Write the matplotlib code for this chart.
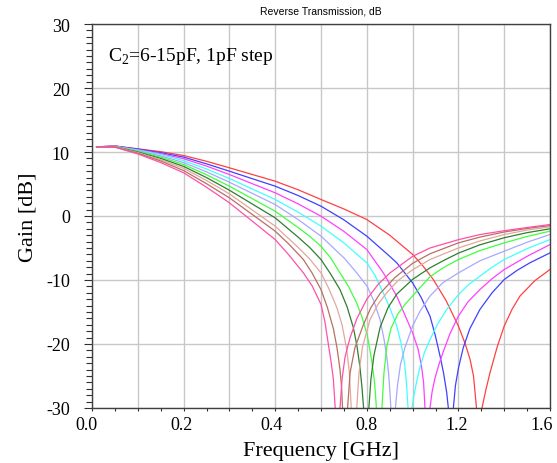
import numpy as np
import matplotlib
matplotlib.use('Agg')
import matplotlib.pyplot as plt
from matplotlib.transforms import ScaledTranslation

# curves for C2 = 6 ... 15 pF, gain in dB vs frequency in GHz
f_6pF = [0.01, 0.05, 0.1, 0.15, 0.2, 0.25, 0.3, 0.4, 0.5, 0.6, 0.7, 0.8, 0.9, 1.0, 1.045, 1.09, 1.146, 1.2, 1.229, 1.251,
         1.266, 1.279, 1.29, 1.303, 1.321, 1.338, 1.369, 1.4, 1.434, 1.469, 1.534, 1.6]
g_6pF = [10.8, 10.95, 10.5, 10.05, 9.45, 8.55, 7.53, 5.44, 4.1, 2.58, 1.1, -0.55, -3.0, -6.0, -7.8, -9.9, -13.2, -17.2, -19.9, -22.4,
         -25.0, -30, -40, -30, -27.0, -24.5, -20.5, -17.2, -14.6, -12.5, -10.1, -8.36]

f_7pF = [0.01, 0.05, 0.1, 0.15, 0.2, 0.25, 0.3, 0.4, 0.5, 0.6, 0.7, 0.8, 0.9, 0.931, 1.0, 1.037, 1.076, 1.098, 1.12, 1.135,
         1.149, 1.156, 1.168, 1.178, 1.187, 1.2, 1.221, 1.25, 1.294, 1.347, 1.4, 1.456, 1.513, 1.6]
g_7pF = [10.8, 10.93, 10.45, 9.9, 9.2, 8.15, 7.0, 4.66, 3.2, 1.53, -0.6, -3.15, -6.3, -7.32, -10.45, -12.7, -15.65, -18.5, -21.9, -24.5,
         -27.6, -30, -40, -30, -26.5, -23.8, -20.6, -17.6, -14.6, -12.0, -9.93, -8.5, -7.3, -5.76]

f_8pF = [0.01, 0.05, 0.1, 0.15, 0.2, 0.25, 0.3, 0.4, 0.5, 0.6, 0.7, 0.8, 0.872, 0.931, 1.0, 1.024, 1.039, 1.048, 1.054, 1.065,
         1.076, 1.085, 1.098, 1.115, 1.134, 1.163, 1.2, 1.242, 1.294, 1.347, 1.4, 1.5, 1.6]
g_8pF = [10.8, 10.9, 10.35, 9.75, 8.95, 7.8, 6.48, 3.62, 1.9, -0.03, -2.4, -5.24, -8.88, -12.53, -18.26, -20.8, -23.5, -26.0, -30, -40,
         -30, -27.5, -25.3, -23.2, -21.2, -18.4, -15.65, -13.4, -11.5, -9.8, -8.36, -6.3, -4.46]

f_9pF = [0.01, 0.05, 0.1, 0.15, 0.2, 0.25, 0.3, 0.4, 0.5, 0.6, 0.7, 0.8, 0.836, 0.872, 0.901, 0.931, 0.949, 0.965, 0.973, 0.98,
         0.989, 0.997, 1.006, 1.018, 1.033, 1.052, 1.076, 1.109, 1.149, 1.2, 1.242, 1.294, 1.347, 1.4, 1.5, 1.6]
g_9pF = [10.8, 10.88, 10.3, 9.6, 8.65, 7.35, 5.86, 2.58, 0.6, -1.59, -4.2, -7.32, -9.3, -12.0, -14.4, -17.2, -19.8, -23.0, -26.0, -30,
         -40, -30, -28.0, -25.8, -23.5, -21.3, -19.3, -16.9, -14.6, -12.3, -10.8, -9.4, -8.0, -6.8, -5.1, -3.68]

f_10pF = [0.01, 0.05, 0.1, 0.15, 0.2, 0.25, 0.3, 0.4, 0.5, 0.6, 0.702, 0.756, 0.802, 0.831, 0.858, 0.875, 0.887, 0.895, 0.901, 0.905,
          0.914, 0.925, 0.934, 0.947, 0.967, 1.0, 1.032, 1.076, 1.133, 1.2, 1.294, 1.4, 1.5, 1.6]
g_10pF = [10.8, 10.86, 10.2, 9.4, 8.35, 6.9, 5.28, 1.79, -0.55, -3.15, -6.6, -8.88, -11.0, -13.3, -16.2, -19.2, -21.9, -24.5, -27.5, -30,
          -40, -30, -26.5, -23.2, -20.5, -17.2, -14.9, -12.5, -10.4, -8.9, -7.0, -5.5, -4.1, -2.89]

f_11pF = [0.01, 0.05, 0.1, 0.15, 0.2, 0.25, 0.3, 0.4, 0.5, 0.55, 0.6, 0.641, 0.683, 0.72, 0.756, 0.779, 0.802, 0.821, 0.834, 0.842, 0.855,
          0.866, 0.875, 0.887, 0.906, 0.936, 0.967, 1.0, 1.032, 1.076, 1.133, 1.2, 1.294, 1.4, 1.5, 1.6]
g_11pF = [10.8, 10.84, 10.1, 9.2, 8.05, 6.45, 4.66, 0.75, -1.8, -3.15, -4.72, -6.5, -8.88, -11.0, -13.6, -15.8, -18.6, -22.5, -26.0, -30, -40,
          -30, -24.5, -20.5, -17.5, -15.3, -13.8, -12.5, -11.2, -9.5, -8.1, -6.8, -5.4, -4.2, -3.2, -2.37]

f_12pF = [0.01, 0.05, 0.1, 0.15, 0.2, 0.25, 0.3, 0.4, 0.5, 0.55, 0.6, 0.641, 0.683, 0.714, 0.741, 0.757, 0.77, 0.779, 0.786, 0.798,
          0.809, 0.818, 0.831, 0.858, 0.893, 0.931, 1.0, 1.076, 1.133, 1.2, 1.294, 1.4, 1.5, 1.6]
g_12pF = [10.8, 10.82, 10.0, 9.0, 7.75, 6.0, 4.03, -0.29, -3.3, -4.9, -6.8, -9.0, -11.5, -14.2, -17.4, -20.3, -23.6, -26.8, -30, -40,
          -30, -25.5, -21.8, -17.4, -14.3, -12.2, -9.9, -8.1, -7.0, -5.8, -4.5, -3.4, -2.6, -2.0]

f_13pF = [0.01, 0.05, 0.1, 0.15, 0.2, 0.25, 0.3, 0.4, 0.5, 0.55, 0.6, 0.635, 0.669, 0.692, 0.712, 0.724, 0.732, 0.744,
          0.756, 0.766, 0.781, 0.814, 0.849, 0.887, 0.936, 1.0, 1.076, 1.2, 1.294, 1.4, 1.5, 1.6]
g_13pF = [10.8, 10.8, 9.9, 8.8, 7.45, 5.55, 3.46, -1.59, -4.9, -6.7, -8.88, -11.4, -14.3, -17.0, -20.8, -24.5, -30, -40,
          -30, -24.5, -20.5, -16.2, -13.8, -12.0, -10.1, -8.4, -6.8, -5.0, -3.9, -2.9, -2.2, -1.7]

f_14pF = [0.01, 0.05, 0.1, 0.15, 0.2, 0.25, 0.3, 0.4, 0.46, 0.523, 0.561, 0.6, 0.628, 0.654, 0.67, 0.683, 0.69, 0.694, 0.705,
          0.716, 0.727, 0.748, 0.785, 0.818, 0.858, 0.923, 1.0, 1.076, 1.2, 1.294, 1.4, 1.5, 1.6]
g_14pF = [10.8, 10.78, 9.8, 8.6, 7.1, 5.05, 2.84, -2.37, -4.4, -6.8, -8.9, -11.5, -14.3, -17.6, -20.6, -24.0, -26.8, -30, -40,
          -30, -24.5, -20.6, -17.0, -14.3, -12.1, -9.6, -7.4, -5.9, -4.2, -3.3, -2.5, -1.95, -1.49]

f_15pF = [0.01, 0.05, 0.1, 0.15, 0.2, 0.25, 0.3, 0.4, 0.46, 0.523, 0.561, 0.6, 0.617, 0.632, 0.644, 0.654, 0.662, 0.672,
          0.683, 0.692, 0.705, 0.727, 0.757, 0.8, 0.849, 0.901, 1.0, 1.076, 1.2, 1.294, 1.4, 1.5, 1.6]
g_15pF = [10.8, 10.75, 9.7, 8.35, 6.75, 4.5, 2.06, -3.68, -6.1, -8.88, -10.9, -13.8, -16.5, -20.0, -22.8, -25.5, -30, -40,
          -30, -25.5, -22.0, -19.0, -16.0, -13.0, -10.7, -8.9, -6.3, -5.0, -3.7, -2.9, -2.3, -1.8, -1.33]

curves = [(f_6pF, g_6pF), (f_7pF, g_7pF), (f_8pF, g_8pF), (f_9pF, g_9pF), (f_10pF, g_10pF),
          (f_11pF, g_11pF), (f_12pF, g_12pF), (f_13pF, g_13pF), (f_14pF, g_14pF), (f_15pF, g_15pF)]
colors = ['#ff4040', '#4040ff', '#ff40ff', '#40ffff', '#a8a8ff',
          '#40ff40', '#2f7f2f', '#e0a8a0', '#b87060', '#ff50a8']

# grid positions along the frequency axis and their labels
grid_f = [0.0, 0.1, 0.2, 0.3, 0.4, 0.6, 0.8, 1.0, 1.2, 1.4, 1.6]
grid_lbl = ['0.0', '', '0.2', '', '0.4', '', '0.8', '', '1.2', '', '1.6']


def fwd(x):
    x = np.asarray(x, dtype=float)
    return np.where(x <= 0.4, x / 0.1, 4 + (x - 0.4) / 0.2)


def inv(i):
    i = np.asarray(i, dtype=float)
    return np.where(i <= 4, i * 0.1, 0.4 + (i - 4) * 0.2)


def main():
    plt.rcParams['axes.unicode_minus'] = False
    plt.rcParams['mathtext.fontset'] = 'custom'
    plt.rcParams['mathtext.rm'] = 'Liberation Serif'

    fig = plt.figure(figsize=(5.57, 4.64), dpi=100)
    ax = fig.add_axes([92 / 557, 55 / 464, 458 / 557, 384 / 464])

    ax.set_xscale('function', functions=(fwd, inv))
    for (f, g), c in zip(curves, colors):
        ax.plot(f, g, color=c, lw=0.9)

    ax.set_xlim(0, 1.6)
    ax.set_ylim(-30, 30)

    ax.set_xticks(grid_f)
    ax.set_xticklabels(grid_lbl)
    mids = inv(np.arange(0.5, 10, 1.0))
    ax.set_xticks(mids, minor=True)
    ax.set_yticks(np.arange(-30, 31, 10))
    ax.set_yticks(np.arange(-30, 31, 1), minor=True)

    ax.grid(True, which='major', color='#c8c8c8', lw=1.0)
    ax.set_axisbelow(True)

    ax.tick_params(axis='x', which='both', direction='out', length=2.5, width=0.8, pad=3, colors='#303030')
    ax.tick_params(axis='y', which='major', direction='out', length=6, width=0.8, pad=10, colors='#303030')
    ax.tick_params(axis='y', which='minor', direction='out', length=4, width=0.8, colors='#303030')
    ax.tick_params(labelcolor='black')

    serif = 'Liberation Serif'
    for lbl in ax.get_xticklabels() + ax.get_yticklabels():
        lbl.set_fontfamily(serif)
        lbl.set_fontsize(13)

    # small shifts of the frequency labels; the last one sits inside the right edge
    shifts = [-6, 0, -2.5, 0, -4, 0, 0, 0, -1.5, 0, -8]
    for lbl, dx in zip(ax.get_xticklabels(), shifts):
        lbl.set_transform(lbl.get_transform() + ScaledTranslation(dx / 100, 0, fig.dpi_scale_trans))

    for s in ax.spines.values():
        s.set_color('#404040')
        s.set_linewidth(1.0)

    ax.set_xlabel('Frequency [GHz]', fontfamily=serif, fontsize=16, labelpad=6)
    ax.set_ylabel('Gain [dB]', fontfamily=serif, fontsize=16, labelpad=6)
    fig.text(321 / 557, 1 - 11 / 464, 'Reverse Transmission, dB', ha='center', va='center',
             fontfamily='Liberation Sans', fontsize=7.5)

    ax.text(0.035, 0.918, r'C$_\mathrm{2}$=6-15pF, 1pF step', transform=ax.transAxes,
            ha='left', va='center', fontfamily=serif, fontsize=14)

    fig.savefig('out.png', dpi=100)


main()
